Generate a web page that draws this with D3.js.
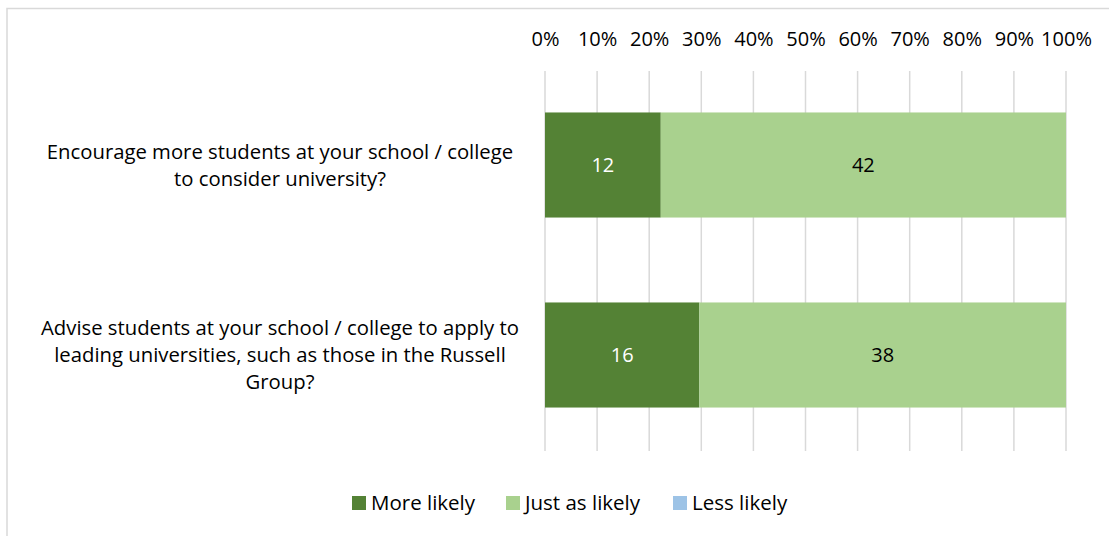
<!DOCTYPE html>
<html>
<head>
<meta charset="utf-8">
<script src="https://cdn.jsdelivr.net/npm/d3@7"></script>
<style>
  body { margin: 0; background: #fff; }
  text { font-family: "Open Sans", Lato, sans-serif; fill: #000; }
</style>
</head>
<body>
<svg width="1109" height="536"></svg>
<script>
const categories = [
  ["Encourage more students at your school / college", "to consider university?"],
  ["Advise students at your school / college to apply to", "leading universities, such as those in the Russell", "Group?"]
];
const seriesNames = ["More likely", "Just as likely", "Less likely"];
const moreLikely = [12, 16];
const justAsLikely = [42, 38];
const lessLikely = [0, 0];
const tickValues = [0, 0.1, 0.2, 0.3, 0.4, 0.5, 0.6, 0.7, 0.8, 0.9, 1];
const colors = ["#548235", "#a9d18e", "#9dc3e6"];
const labelColors = ["#fff", "#000", "#000"];

const svg = d3.select("svg");
const width = +svg.attr("width");
const height = +svg.attr("height");
const fs = 20.5;

// chart border
svg.append("rect").attr("x", 7).attr("y", 8.5).attr("width", width + 10).attr("height", height + 10)
  .attr("fill", "none").attr("stroke", "#d9d9d9").attr("stroke-width", 1.5);

const x = d3.scaleLinear().domain([0, 1]).range([545, 1066]);
const y = d3.scaleBand().domain(d3.range(categories.length)).range([70, 450]).paddingInner(0.447).paddingOuter(0.2235);

// gridlines
svg.append("g").selectAll("line").data(tickValues).join("line")
  .attr("x1", d => x(d)).attr("x2", d => x(d))
  .attr("y1", 71).attr("y2", 451)
  .attr("stroke", "#d9d9d9").attr("stroke-width", 1.5);

// top axis labels
const axis = svg.append("g").attr("transform", "translate(0,39)")
  .call(d3.axisTop(x).tickValues(tickValues).tickFormat(d3.format(".0%")).tickSize(0).tickPadding(0));
axis.select(".domain").remove();
axis.selectAll("text").attr("font-size", 20).attr("dy", "0.35em").attr("font-family", "Open Sans").attr("fill", "#000");

// stacked bars
const rows = categories.map((c, i) => ({ i, more: moreLikely[i], just: justAsLikely[i], less: lessLikely[i] }));
const stack = d3.stack().keys(["more", "just", "less"]).offset(d3.stackOffsetExpand);
const series = stack(rows);

const layer = svg.append("g").selectAll("g").data(series).join("g").attr("fill", (d, k) => colors[k]);
layer.selectAll("rect").data(d => d).join("rect")
  .attr("x", d => x(d[0])).attr("width", d => x(d[1]) - x(d[0]))
  .attr("y", d => y(d.data.i)).attr("height", y.bandwidth());

// data labels
series.forEach((s, k) => {
  svg.append("g").selectAll("text").data(s.filter(d => d.data[s.key] > 0)).join("text")
    .attr("x", d => (x(d[0]) + x(d[1])) / 2)
    .attr("y", d => y(d.data.i) + y.bandwidth() / 2)
    .attr("dy", "0.35em").attr("text-anchor", "middle").attr("font-size", 20)
    .style("fill", labelColors[k])
    .text(d => d.data[s.key]);
});

// category labels
const lineH = 27;
categories.forEach((lines, i) => {
  const cy = y(i) + y.bandwidth() / 2;
  const t = svg.append("text").attr("text-anchor", "middle").attr("font-size", 20.3);
  lines.forEach((l, j) => {
    t.append("tspan").attr("x", 280)
      .attr("y", cy + (j - (lines.length - 1) / 2) * lineH)
      .attr("dy", "0.35em").text(l);
  });
});

// legend
const legendX = [352, 506, 673];
const legend = svg.append("g").selectAll("g").data(seriesNames).join("g")
  .attr("transform", (d, k) => `translate(${legendX[k]},503)`);
legend.append("rect").attr("x", 0).attr("y", -7).attr("width", 14).attr("height", 14)
  .attr("fill", (d, k) => colors[k]);
legend.append("text").attr("x", 19).attr("dy", "0.35em").attr("font-size", fs).text(d => d);
</script>
</body>
</html>
